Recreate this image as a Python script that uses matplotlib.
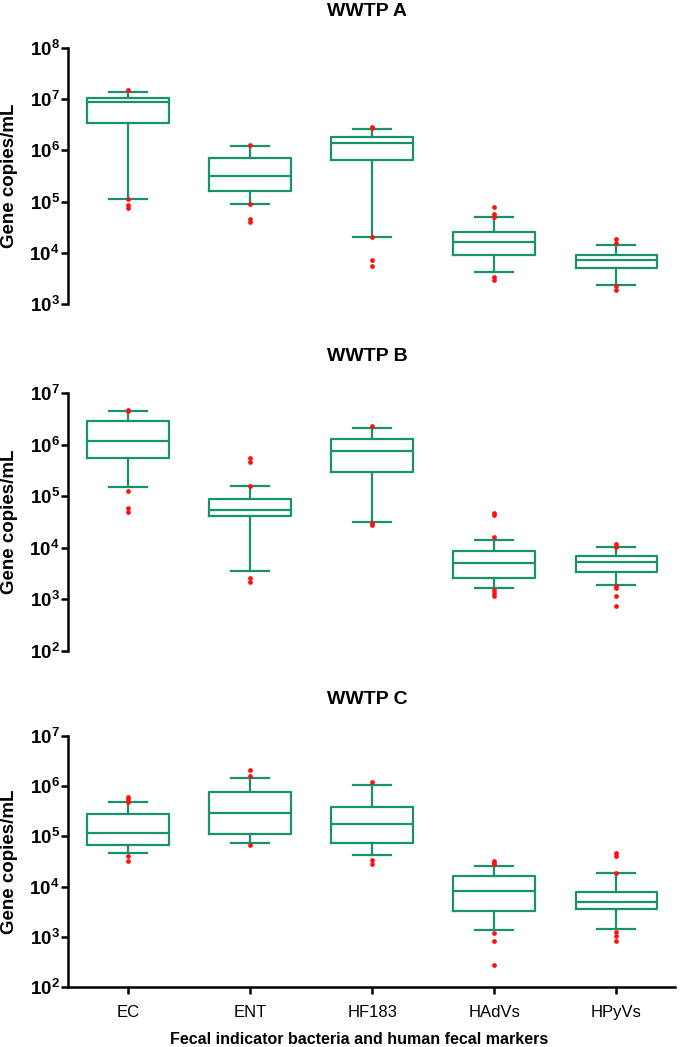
import matplotlib
matplotlib.use('Agg')
import matplotlib.pyplot as plt
import numpy as np

plt.rcParams['font.family'] = ['Liberation Sans', 'DejaVu Sans']
plt.rcParams['mathtext.fontset'] = 'custom'
plt.rcParams['mathtext.rm'] = 'Liberation Sans:bold'
plt.rcParams['mathtext.bf'] = 'Liberation Sans:bold'
plt.rcParams['mathtext.it'] = 'Liberation Sans:bold'

categories = ['EC', 'ENT', 'HF183', 'HAdVs', 'HPyVs']
plants = ['WWTP A', 'WWTP B', 'WWTP C']

# box stats per plant: (whislo, q1, med, q3, whishi) for each category
stats_a = [
    (1.1e5, 3.5e6, 8.7e6, 1.07e7, 1.4e7),
    (9.0e4, 1.58e5, 3.1e5, 7.2e5, 1.23e6),
    (2.0e4, 6.4e5, 1.4e6, 1.85e6, 2.6e6),
    (4.2e3, 9.1e3, 1.65e4, 2.6e4, 5.1e4),
    (2.4e3, 5.0e3, 7.2e3, 9.1e3, 1.4e4),
]
stats_b = [
    (1.5e5, 5.5e5, 1.15e6, 2.9e6, 4.4e6),
    (3.5e3, 4.1e4, 5.4e4, 8.7e4, 1.58e5),
    (3.2e4, 2.9e5, 7.6e5, 1.3e6, 2.1e6),
    (1.7e3, 2.6e3, 5.0e3, 8.8e3, 1.4e4),
    (1.9e3, 3.4e3, 5.3e3, 6.9e3, 1.02e4),
]
stats_c = [
    (4.6e4, 6.6e4, 1.15e5, 2.8e5, 4.9e5),
    (7.4e4, 1.1e5, 2.9e5, 7.7e5, 1.48e6),
    (4.3e4, 7.4e4, 1.73e5, 3.9e5, 1.07e6),
    (1.38e3, 3.3e3, 8.0e3, 1.6e4, 2.6e4),
    (1.44e3, 3.5e3, 4.9e3, 7.8e3, 1.86e4),
]

outliers_a = [
    [1.5e7, 1.1e5, 8.5e4, 7.5e4],
    [1.3e6, 8.8e4, 4.6e4, 4.0e4],
    [2.9e6, 2.7e6, 2.0e4, 7.2e3, 5.5e3],
    [8.0e4, 5.6e4, 5.0e4, 3.4e3, 2.9e3],
    [1.9e4, 1.55e4, 2.2e3, 1.85e3],
]
outliers_b = [
    [4.7e6, 4.4e6, 1.26e5, 5.9e4, 5.0e4],
    [5.4e5, 4.6e5, 1.6e5, 2.6e3, 2.2e3],
    [2.3e6, 3.0e4, 2.8e4],
    [4.7e4, 4.4e4, 1.6e4, 1.55e3, 1.35e3, 1.17e3],
    [1.17e4, 1.05e4, 1.8e3, 1.65e3, 1.17e3, 7.4e2],
]
outliers_c = [
    [6.2e5, 5.5e5, 4.9e5, 4.0e4, 3.2e4],
    [2.1e6, 1.6e6, 6.6e4],
    [1.23e6, 3.4e4, 2.8e4],
    [3.2e4, 2.95e4, 2.8e4, 1.2e3, 8.1e2, 2.8e2],
    [4.7e4, 4.0e4, 1.9e4, 1.24e3, 1.05e3, 8.1e2],
]

all_stats = [stats_a, stats_b, stats_c]
all_outliers = [outliers_a, outliers_b, outliers_c]
ylims = [(1e3, 1e8), (1e2, 1e7), (1e2, 1e7)]

green = '#17926a'
W, H = 680, 1047
fig = plt.figure(figsize=(W / 100, H / 100), dpi=100)

# panel extents in pixels (top, bottom)
panel_px = [(48, 304), (393, 651), (736, 987)]
title_px = [11, 356, 699]
left, right = 68, 675

for i, (st, outl) in enumerate(zip(all_stats, all_outliers)):
    top, bot = panel_px[i]
    ax = fig.add_axes([left / W, 1 - bot / H, (right - left) / W, (bot - top) / H])
    bxp_stats = []
    for (lo, q1, med, q3, hi), fl in zip(st, outl):
        bxp_stats.append(dict(whislo=lo, q1=q1, med=med, q3=q3, whishi=hi, fliers=fl))
    ax.bxp(bxp_stats, positions=range(1, 6), widths=0.67, capwidths=0.31,
           boxprops=dict(color=green, linewidth=1.6),
           medianprops=dict(color=green, linewidth=1.6),
           whiskerprops=dict(color=green, linewidth=1.6),
           capprops=dict(color=green, linewidth=1.6),
           flierprops=dict(marker='o', markersize=2.4, markerfacecolor='#ff1010',
                           markeredgecolor='#ff1010', linestyle='none'),
           zorder=3)
    ax.set_yscale('log')
    ax.set_ylim(*ylims[i])
    ax.set_xlim(0.508, 5.48)
    ax.minorticks_off()
    lo_e, hi_e = int(np.log10(ylims[i][0])), int(np.log10(ylims[i][1]))
    ax.set_yticks([10.0 ** e for e in range(lo_e, hi_e + 1)])
    ax.set_yticklabels([r'$10^{%d}$' % e for e in range(lo_e, hi_e + 1)], fontsize=13.5)
    ax.tick_params(axis='y', direction='out', length=5, width=1.8, pad=1)
    for s in ['top', 'right']:
        ax.spines[s].set_visible(False)
    ax.spines['left'].set_linewidth(1.8)
    ax.set_ylabel('Gene copies/mL', fontsize=13.5, fontweight='bold')
    ax.yaxis.set_label_coords(-0.082, 0.5)
    if i < 2:
        ax.spines['bottom'].set_visible(False)
        ax.set_xticks([])
    else:
        ax.spines['bottom'].set_linewidth(1.8)
        ax.set_xticks(range(1, 6))
        ax.set_xticklabels(categories, fontsize=12)
        ax.tick_params(axis='x', direction='out', length=5, width=1.8, pad=8)
        ax.set_xlabel('Fecal indicator bacteria and human fecal markers',
                      fontsize=11.5, fontweight='bold')
        ax.xaxis.set_label_coords(0.48, -0.178)
    fig.text(367 / W, 1 - title_px[i] / H, plants[i], ha='center', va='center',
             fontsize=14, fontweight='bold')

fig.savefig('out.png', dpi=100)
